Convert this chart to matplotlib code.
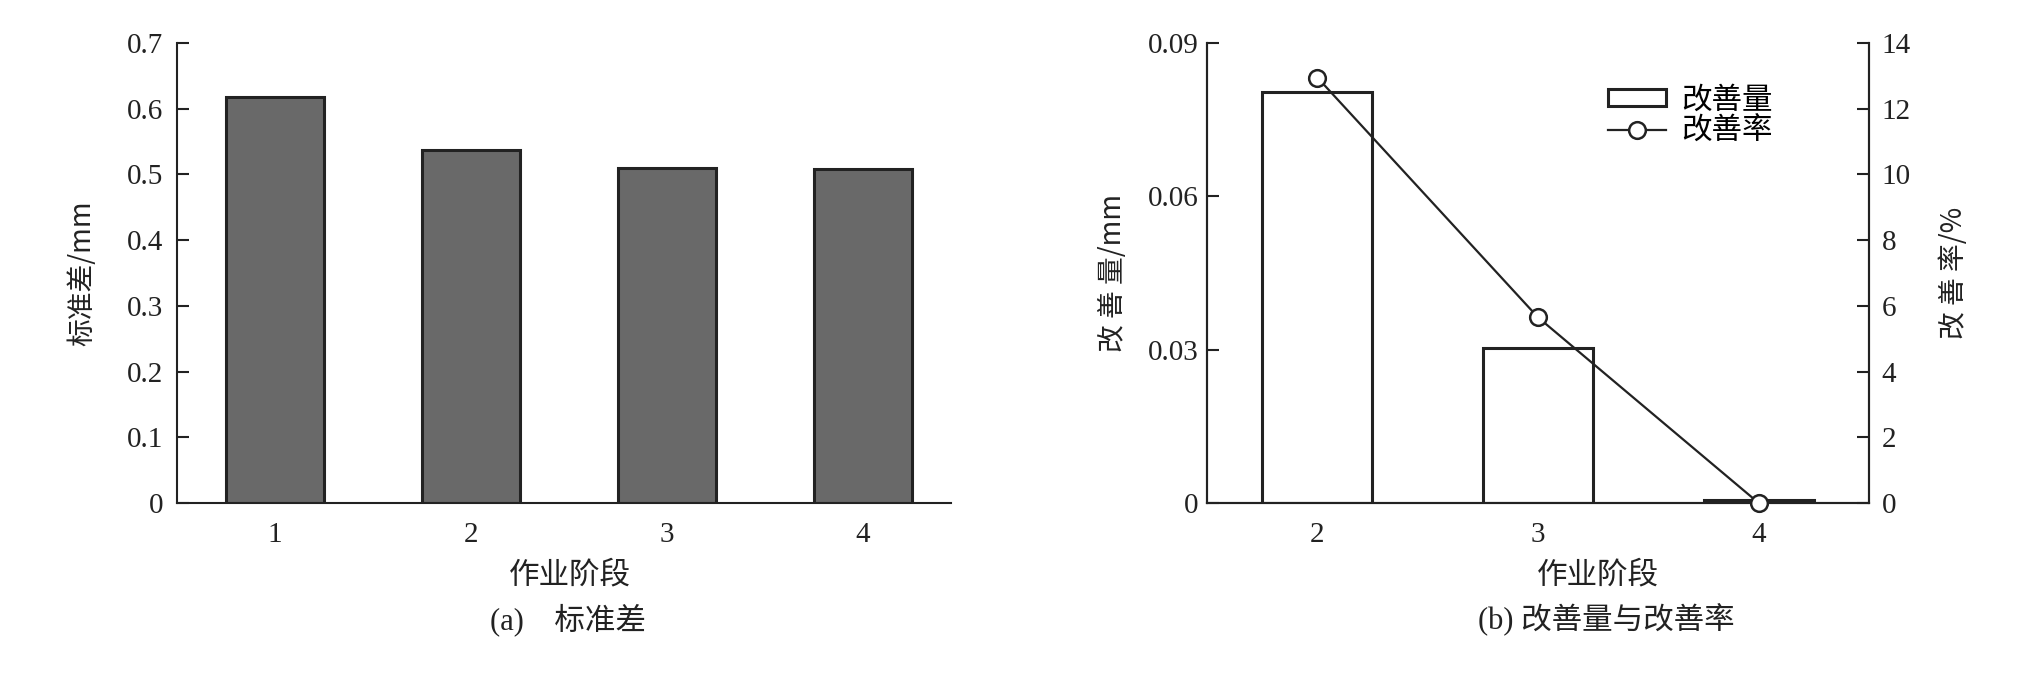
import matplotlib
matplotlib.use("Agg")
import matplotlib.pyplot as plt
from matplotlib.patches import Patch
from matplotlib.lines import Line2D

plt.rcParams['font.family'] = ['Liberation Serif', 'Noto Sans CJK SC']
plt.rcParams['axes.linewidth'] = 1.5

# data
stages_a = [1, 2, 3, 4]
std_a = [0.618, 0.537, 0.510, 0.508]
yticks_a = [0, 0.1, 0.2, 0.3, 0.4, 0.5, 0.6, 0.7]
ytick_labels_a = ['0', '0.1', '0.2', '0.3', '0.4', '0.5', '0.6', '0.7']

stages_b = [2, 3, 4]
improve_amt = [0.0805, 0.0304, 0.0005]
improve_rate = [12.95, 5.65, 0.0]
yticks_b = [0, 0.03, 0.06, 0.09]
ytick_labels_b = ['0', '0.03', '0.06', '0.09']
yticks_b2 = [0, 2, 4, 6, 8, 10, 12, 14]

ink = '#222222'
cjk = ['Noto Sans CJK SC', 'Liberation Serif']
mixed = ['Liberation Serif', 'Noto Sans CJK SC']
TICK = 21
CJK = 22

fig = plt.figure(figsize=(20.24, 6.81), dpi=100)

# ---------- (a) ----------
ax1 = fig.add_axes([177/2024, 178/681, 774/2024, 460/681])
ax1.bar(stages_a, std_a, width=0.5, color='#696969', edgecolor=ink, linewidth=2.2)
ax1.set_xlim(0.5, 4.45)
ax1.set_ylim(0, 0.7)
ax1.set_yticks(yticks_a)
ax1.set_yticklabels(ytick_labels_a)
ax1.set_xticks(stages_a)
ax1.spines['top'].set_visible(False)
ax1.spines['right'].set_visible(False)
for s in ax1.spines.values():
    s.set_color(ink)
ax1.tick_params(axis='y', direction='in', length=8.6, width=1.5, pad=10, labelsize=TICK, colors=ink)
ax1.tick_params(axis='x', length=0, pad=14, labelsize=TICK, colors=ink)
ax1.set_ylabel('标准差/mm', family=cjk, fontsize=20, color=ink, labelpad=21)
fig.text(570/2024, 1 - 575/681, '作业阶段', family=cjk, fontsize=CJK, ha='center', va='center', color=ink)
fig.text(568/2024, 1 - 620/681, '(a)    标准差', family=mixed, fontsize=CJK, ha='center', va='center', color=ink)

# ---------- (b) ----------
ax2 = fig.add_axes([1207/2024, 178/681, 662/2024, 460/681])
ax2.bar(stages_b, improve_amt, width=0.5, color='white', edgecolor=ink, linewidth=2.2, zorder=2)
ax2.set_xlim(1.5, 4.5)
ax2.set_ylim(0, 0.09)
ax2.set_yticks(yticks_b)
ax2.set_yticklabels(ytick_labels_b)
ax2.set_xticks(stages_b)
ax2.spines['top'].set_visible(False)
for s in ax2.spines.values():
    s.set_color(ink)
ax2.tick_params(axis='y', direction='in', length=8.6, width=1.5, pad=6, labelsize=TICK, colors=ink)
ax2.tick_params(axis='x', length=0, pad=14, labelsize=TICK, colors=ink)
ax2.set_ylabel('改 善 量/mm', family=cjk, fontsize=20, color=ink, labelpad=14)

ax3 = ax2.twinx()
ax3.plot(stages_b, improve_rate, color=ink, linewidth=1.6, marker='o', markersize=12,
         markerfacecolor='white', markeredgecolor=ink, markeredgewidth=1.8, zorder=3, clip_on=False)
ax3.set_ylim(0, 14)
ax3.set_yticks(yticks_b2)
ax3.spines['top'].set_visible(False)
for s in ax3.spines.values():
    s.set_color(ink)
ax3.tick_params(axis='y', direction='in', length=8.6, width=1.5, pad=9, labelsize=TICK, colors=ink)
ax3.set_ylabel('改 善 率/%', family=cjk, fontsize=20, color=ink, labelpad=20)

handles = [Patch(facecolor='white', edgecolor=ink, linewidth=2.2),
           Line2D([0], [0], color=ink, linewidth=1.6, marker='o', markersize=12,
                  markerfacecolor='white', markeredgecolor=ink, markeredgewidth=1.8)]
ax3.legend(handles, ['改善量', '改善率'], loc='upper left', bbox_to_anchor=(0.605, 0.91),
           frameon=False, prop={'family': cjk, 'size': CJK}, handlelength=1.9, handleheight=0.45,
           handletextpad=0.5, labelspacing=0.0, borderaxespad=0, borderpad=0)

fig.text(1598/2024, 1 - 575/681, '作业阶段', family=cjk, fontsize=CJK, ha='center', va='center', color=ink)
fig.text(1606/2024, 1 - 620/681, '(b) 改善量与改善率', family=mixed, fontsize=22, ha='center', va='center', color=ink)

fig.savefig('out.png', dpi=100, facecolor='white')
